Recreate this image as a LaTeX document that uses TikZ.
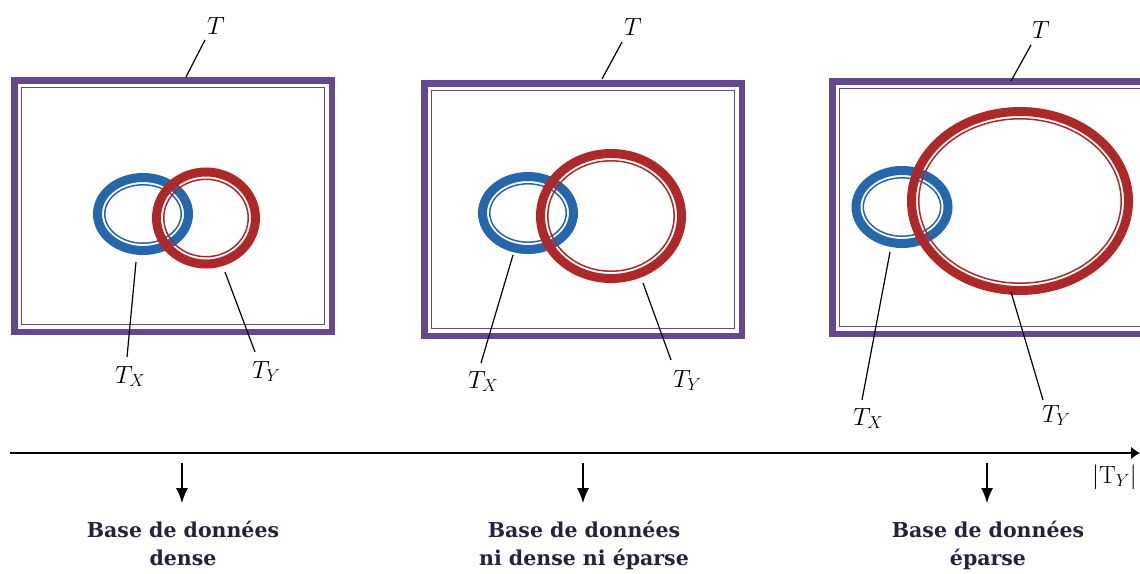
\documentclass[tikz,border=0pt]{standalone}
\usepackage{fontspec}
\newfontfamily\capfont{DejaVu Serif}
\usetikzlibrary{arrows.meta}
\definecolor{tpurple}{RGB}{102,72,142}
\definecolor{tblue}{RGB}{38,103,171}
\definecolor{tred}{RGB}{173,40,40}
\definecolor{tnavy}{RGB}{38,34,60}
\tikzset{
  outerband/.style={draw=tpurple,line width=6.5pt},
  innerline/.style={draw=tpurple,line width=1.4pt},
  lbl/.style={anchor=base west,inner sep=0pt,font=\fontsize{26}{30}\selectfont},
  leader/.style={draw=black,line width=1.2pt},
  caption/.style={anchor=north,inner sep=0pt,align=center,text=tnavy,
    font=\capfont\bfseries\fontsize{20.5}{28}\selectfont},
  downarrow/.style={draw=black,line width=1.3pt,-{Latex[length=15pt,width=12pt]}},
  axisline/.style={draw=black,line width=2.5pt,-{Latex[length=9pt,width=13pt]}}
}
\newcommand\mkring[5]{%
  \draw[#1,line width=9pt] (#2,#3) ellipse [x radius={#4pt-4.5pt}, y radius={#5pt-4.5pt}];
  \draw[#1,line width=1.5pt] (#2,#3) ellipse [x radius={#4pt-11.8pt}, y radius={#5pt-11.8pt}];
}
\newcommand\mkframe[4]{%
  \draw[outerband] ({#1+3.25},{#2+3.25}) rectangle ({#3-3.25},{#4-3.25});
  \draw[innerline] ({#1+10.5},{#2+10.5}) rectangle ({#3-10.5},{#4-10.5});
}
\begin{document}
\begin{tikzpicture}[x=1pt,y=-1pt]
\clip (0,0) rectangle (1140,573);
\fill[white] (0,0) rectangle (1140,573);

% frames
\mkframe{11}{77}{335}{335}
\mkframe{421}{80}{745}{339}
\mkframe{829}{78}{1160}{337}

% rings
\mkring{tblue}{143}{214}{50}{41}
\mkring{tred}{206}{218}{54}{50.5}
\mkring{tblue}{528}{213}{50}{41}
\mkring{tred}{611}{216}{75}{67}
\mkring{tblue}{902}{207}{50.5}{41}
\mkring{tred}{1020}{201}{113}{94}

% labels
\node[lbl] (T1) at (207,34) {$T$};
\node[lbl] (TX1) at (115,383) {$T_X$};
\node[lbl] (TY1) at (252,378) {$T_Y$};
\node[lbl] (T2) at (624,35) {$T$};
\node[lbl] (TX2) at (468,388) {$T_X$};
\node[lbl] (TY2) at (673,387) {$T_Y$};
\node[lbl] (T3) at (1032,38) {$T$};
\node[lbl] (TX3) at (853,425) {$T_X$};
\node[lbl] (TY3) at (1042,422) {$T_Y$};

% leader end points
\coordinate (l1a) at (205,40);  \coordinate (l1b) at (186,77);
\coordinate (l2a) at (136,262); \coordinate (l2b) at (127,357);
\coordinate (l3a) at (225,272); \coordinate (l3b) at (255,352);
\coordinate (l4a) at (622,42);  \coordinate (l4b) at (602,79);
\coordinate (l5a) at (513,255); \coordinate (l5b) at (481,363);
\coordinate (l6a) at (643,283); \coordinate (l6b) at (671,360);
\coordinate (l7a) at (1031,45); \coordinate (l7b) at (1011,81);
\coordinate (l8a) at (890,252); \coordinate (l8b) at (862,400);
\coordinate (l9a) at (1011,292); \coordinate (l9b) at (1043,400);
\foreach \i in {1,...,9} {\draw[leader] (l\i a) -- (l\i b);}

% axis
\coordinate (ax0) at (10,453);
\coordinate (ax1) at (1140,453);
\draw[axisline] (ax0) -- (ax1);
\node[anchor=base west,inner sep=0pt,font=\fontsize{25}{30}\selectfont] (axl) at (1092,483) {$|\mathrm{T}_Y|$};

% down arrows
\coordinate (d1a) at (182,463); \coordinate (d1b) at (182,503);
\coordinate (d2a) at (583,463); \coordinate (d2b) at (583,503);
\coordinate (d3a) at (987,463); \coordinate (d3b) at (987,503);
\foreach \i in {1,2,3} {\draw[downarrow] (d\i a) -- (d\i b);}

% captions
\node[caption] (c1) at (183,521) {Base de données\\dense};
\node[caption] (c2) at (584,521) {Base de données\\ni dense ni éparse};
\node[caption] (c3) at (988,521) {Base de données\\éparse};
\end{tikzpicture}
\end{document}
